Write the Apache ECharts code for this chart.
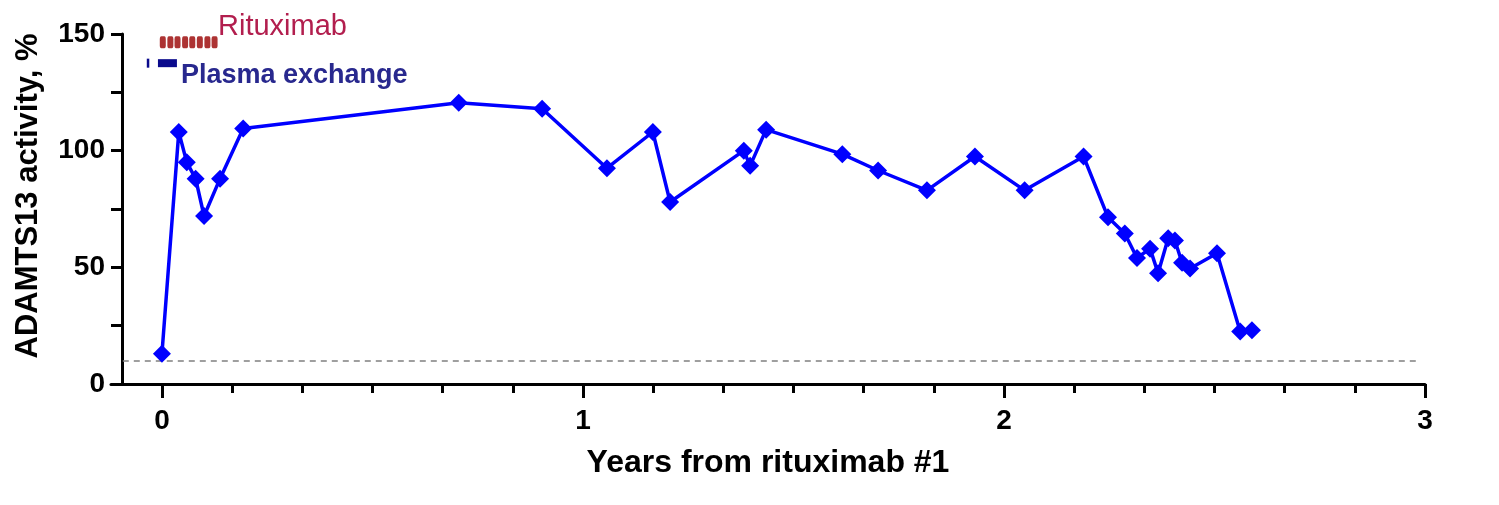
<!DOCTYPE html>
<html>
<head>
<meta charset="utf-8">
<script src="https://cdn.jsdelivr.net/npm/echarts@6/dist/echarts.min.js"></script>
<style>
html,body{margin:0;padding:0;background:#fff;}
#chart{width:1499px;height:505px;}
</style>
</head>
<body>
<div id="chart"></div>
<script>
// ---- data ----
var years = [0, 0.040, 0.059, 0.080, 0.100, 0.138, 0.193, 0.705, 0.903, 1.057, 1.166, 1.207,
             1.382, 1.397, 1.435, 1.616, 1.701, 1.817, 1.931, 2.049, 2.189, 2.247, 2.287, 2.316,
             2.347, 2.366, 2.390, 2.406, 2.423, 2.442, 2.506, 2.561, 2.589];
var adamts13 = [13, 108, 95, 88, 72, 88, 109.5, 120.5, 118, 92.5, 108, 78,
                100, 93.5, 109, 98.5, 91.5, 83, 97.5, 83, 97.5, 71.5, 64.5, 54,
                58, 47.5, 62.5, 61.5, 52, 49.5, 56, 22.5, 23];
var rituximabDoses = [0.002, 0.020, 0.037, 0.055, 0.072, 0.090, 0.108, 0.125];
var rituximabLevel = 146.5;
var plasmaExchange = [[-0.036, -0.031], [-0.0095, 0.0356]];
var plasmaLevel = 137.5;
var thresholdValue = 10;
var thresholdRange = [-0.093, 2.99];
var xMajorTicks = [0, 1, 2, 3];
var xMinorTicks = [1/6, 2/6, 3/6, 4/6, 5/6, 7/6, 8/6, 9/6, 10/6, 11/6, 13/6, 14/6, 15/6, 16/6, 17/6];
var xRange = [-0.121, 3];
var yRange = [0, 150];
var yStep = 50;
var xTitle = 'Years from rituximab #1';
var yTitle = 'ADAMTS13 activity, %';
var rituximabLabel = 'Rituximab';
var plasmaLabel = 'Plasma exchange';

// ---- chart ----
var FONT = 'Arial, "Liberation Sans", sans-serif';
var chart = echarts.init(document.getElementById('chart'), null, {renderer: 'canvas'});

var mainPoints = years.map(function (x, i) { return [x, adamts13[i]]; });
var ritPoints = rituximabDoses.map(function (x) { return [x, rituximabLevel]; });
var plasmaData = plasmaExchange.map(function (r) { return [r[0], r[1], plasmaLevel]; });

var option = {
  animation: false,
  backgroundColor: '#ffffff',
  grid: {left: 111, right: 74, top: 34, bottom: 121, containLabel: false, outerBoundsMode: 'none'},
  xAxis: [{
    type: 'value',
    min: xRange[0], max: xRange[1],
    position: 'bottom',
    name: xTitle,
    nameLocation: 'middle',
    nameGap: 63,
    nameTextStyle: {fontFamily: FONT, fontSize: 32, fontWeight: 'bold', color: '#000'},
    axisLine: {show: true, onZero: false, lineStyle: {color: '#000', width: 3}},
    axisTick: {show: true, customValues: xMajorTicks, length: 14, lineStyle: {color: '#000', width: 3}},
    axisLabel: {show: true, customValues: xMajorTicks, margin: 23, fontFamily: FONT, fontSize: 28,
                fontWeight: 'bold', color: '#000',
                formatter: function (v) { return String(Math.round(v)); }},
    splitLine: {show: false}
  }, {
    type: 'value',
    min: xRange[0], max: xRange[1],
    position: 'bottom',
    axisLine: {show: false, onZero: false},
    axisTick: {show: true, customValues: xMinorTicks, length: 9, lineStyle: {color: '#000', width: 3}},
    axisLabel: {show: false},
    splitLine: {show: false}
  }],
  yAxis: {
    type: 'value',
    min: yRange[0], max: yRange[1], interval: yStep,
    position: 'left',
    offset: -11,
    name: yTitle,
    nameLocation: 'middle',
    nameGap: 78,
    nameTextStyle: {fontFamily: FONT, fontSize: 31, fontWeight: 'bold', color: '#000', padding: [0, 0, 0, 26]},
    axisLine: {show: true, onZero: false, lineStyle: {color: '#000', width: 3}},
    axisTick: {show: true, length: 11, lineStyle: {color: '#000', width: 3}},
    minorTick: {show: true, splitNumber: 2, length: 11, lineStyle: {color: '#000', width: 3}},
    axisLabel: {margin: 17, fontFamily: FONT, fontSize: 28, fontWeight: 'bold', color: '#000'},
    splitLine: {show: false}
  },
  series: [{
    type: 'line',
    data: mainPoints,
    symbol: 'diamond',
    symbolSize: 18,
    lineStyle: {color: '#0000ff', width: 3.5},
    itemStyle: {color: '#0000ff'},
    z: 5,
    markLine: {
      silent: true,
      symbol: ['none', 'none'],
      label: {show: false},
      lineStyle: {color: '#808080', width: 1.5, type: [6, 5]},
      data: [[{coord: [thresholdRange[0], thresholdValue]}, {coord: [thresholdRange[1], thresholdValue]}]]
    }
  }, {
    type: 'scatter',
    data: ritPoints,
    symbol: 'roundRect',
    symbolSize: [6, 12],
    itemStyle: {color: '#990000'},
    silent: true
  }, {
    type: 'custom',
    data: plasmaData,
    silent: true,
    renderItem: function (params, api) {
      var p0 = api.coord([api.value(0), api.value(2)]);
      var p1 = api.coord([api.value(1), api.value(2)]);
      var h = params.dataIndex === 0 ? 9 : 8;
      return {
        type: 'rect',
        shape: {x: p0[0], y: p0[1] - h / 2, width: Math.max(p1[0] - p0[0], 2.5), height: h},
        style: {fill: '#0a0a8c'}
      };
    }
  }],
  graphic: [{
    type: 'text', left: 218, top: 12,
    style: {text: rituximabLabel, font: 'normal 29px ' + FONT, fill: '#b21e4e'}
  }, {
    type: 'text', left: 181, top: 62,
    style: {text: plasmaLabel, font: 'bold 27px ' + FONT, fill: '#28288e'}
  }]
};
chart.setOption(option);
</script>
</body>
</html>
